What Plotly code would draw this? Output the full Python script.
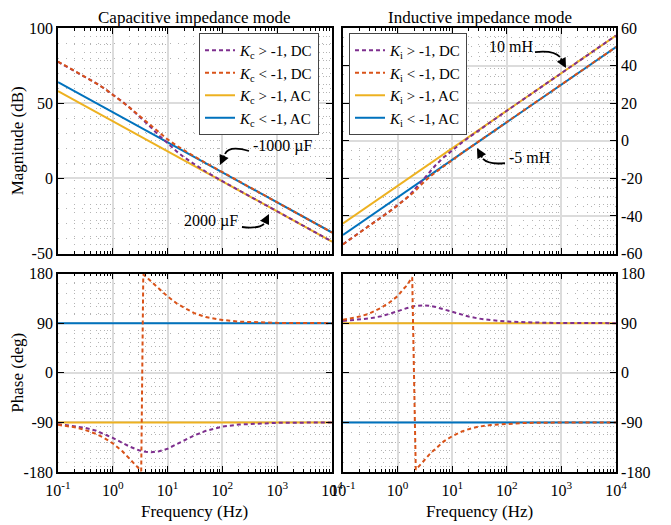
import plotly.graph_objects as go

FONT = "Liberation Serif"
C_BLUE = "#0072BD"
C_ORANGE = "#D95319"
C_YELLOW = "#EDB120"
C_PURPLE = "#7E2F8E"

# ---------------- data ----------------
tick_freqs = [0.1, 1, 10, 100, 1000, 10000]
tick_text = ["10<sup>-1</sup>", "10<sup>0</sup>", "10<sup>1</sup>",
             "10<sup>2</sup>", "10<sup>3</sup>", "10<sup>4</sup>"]

freq_ac = [0.1, 10000]
# Capacitive mode, AC
cap_mag_ac_gt = [58.0, -42.0]
cap_mag_ac_lt = [64.0, -36.0]
cap_ph_ac_gt = [-90, -90]
cap_ph_ac_lt = [90, 90]
# Inductive mode, AC
ind_mag_ac_gt = [-44.0, 56.0]
ind_mag_ac_lt = [-50.1, 49.9]
ind_ph_ac_gt = [90, 90]
ind_ph_ac_lt = [-90, -90]

# Capacitive mode, DC, Kc > -1
cap_freq_dc_gt = [0.1, 0.2, 0.3, 0.5, 0.7, 1, 1.5, 2, 3, 4, 5, 7, 10, 15, 20, 30, 50,
                  100, 200, 500, 1000, 10000]
cap_mag_dc_gt = [77.5, 71.5, 67.9, 63.2, 59.8, 55.8, 51.0, 47.3, 41.6, 37.3, 33.8, 28.5,
                 23.2, 17.6, 14.0, 9.5, 4.4, -1.9, -8.0, -16.0, -22.0, -42.0]
cap_ph_dc_gt = [-93.2, -96.3, -99.4, -105.3, -110.8, -118.0, -127.2, -133.6, -140.6,
                -143.4, -144.1, -142.5, -137.8, -129.6, -123.0, -114.1, -105.3, -97.8,
                -93.9, -91.6, -90.8, -90.1]

# Capacitive mode, DC, Kc < -1
cap_freq_dc_lt = [0.1, 0.2, 0.3, 0.5, 0.7, 1, 1.5, 2, 2.5, 3, 3.3, 3.6, 4, 5, 7, 10, 15,
                  20, 30, 50, 100, 200, 500, 1000, 10000]
cap_mag_dc_lt = [77.7, 71.6, 68.0, 63.2, 59.8, 55.8, 50.8, 47.2, 44.3, 41.8, 40.5, 39.3,
                 37.9, 34.7, 30.3, 25.9, 21.5, 18.6, 14.8, 10.2, 4.1, -2.0, -9.9, -16.0,
                 -36.0]
cap_ph_dc_lt = [-94.4, -98.8, -103.1, -111.0, -118.5, -128.0, -142.5, -154.8, -165.2,
                -173.8, -178.5, 178.0, 174.5, 165.5, 152.0, 138.5, 125.0, 117.5, 108.5,
                101.0, 95.8, 92.8, 91.1, 90.5, 90.0]

# Inductive mode, DC, Ki > -1
ind_freq_dc_gt = [0.1, 0.2, 0.3, 0.5, 0.7, 1, 1.5, 2, 3, 4, 5, 7, 10, 15, 20, 30, 50,
                  100, 200, 500, 1000, 10000]
ind_mag_dc_gt = [-55.0, -49.0, -45.4, -40.8, -37.7, -34.2, -30.2, -26.2, -20.2, -16.0,
                 -12.9, -8.8, -5.0, -1.0, 1.7, 5.4, 9.9, 16.0, 22.0, 29.9, 36.0, 56.0]
ind_ph_dc_gt = [94.0, 96.5, 98.5, 102.5, 106.5, 111.5, 117.5, 120.8, 122.2, 121.3, 119.2,
                115.0, 110.5, 105.0, 102.0, 98.5, 95.5, 93.0, 91.5, 90.6, 90.3, 90.0]

# Inductive mode, DC, Ki < -1
ind_freq_dc_lt = [0.1, 0.2, 0.3, 0.5, 0.7, 1, 1.25, 1.5, 1.7, 1.85, 2.15, 2.5, 3, 4, 5, 7,
                  10, 15, 20, 30, 50, 100, 200, 500, 1000, 10000]
ind_mag_dc_lt = [-55.1, -49.1, -45.5, -40.9, -37.8, -34.4, -32.2, -30.5, -29.3, -28.4,
                 -26.5, -24.3, -22.0, -18.8, -16.7, -13.5, -10.3, -6.6, -4.1, -0.5, 3.9,
                 9.9, 16.0, 23.9, 29.9, 49.9]
ind_ph_dc_lt = [96.0, 101.9, 107.0, 118.0, 127.0, 139.0, 151.0, 159.0, 168.0, 173.0,
                -176.0, -167.8, -160.0, -146.0, -137.0, -124.5, -115.0, -106.5, -102.3,
                -97.9, -94.8, -92.4, -91.2, -90.5, -90.2, -90.0]

names_cap = ["<i>K</i><sub>c</sub> &gt; -1, DC", "<i>K</i><sub>c</sub> &lt; -1, DC",
             "<i>K</i><sub>c</sub> &gt; -1, AC", "<i>K</i><sub>c</sub> &lt; -1, AC"]
names_ind = ["<i>K</i><sub>i</sub> &gt; -1, DC", "<i>K</i><sub>i</sub> &lt; -1, DC",
             "<i>K</i><sub>i</sub> &gt; -1, AC", "<i>K</i><sub>i</sub> &lt; -1, AC"]

fig = go.Figure()

DASH = "4px,3px"


def add_panel(xa, ya, f_gt, m_gt, f_lt, m_lt, ac_gt, ac_lt, names, legend, show):
    # draw order: AC solid first, then dashed DC on top
    fig.add_trace(go.Scatter(x=freq_ac, y=ac_gt, xaxis=xa, yaxis=ya, mode="lines",
                             line=dict(color=C_YELLOW, width=2), name=names[2],
                             legend=legend, legendrank=3, showlegend=show))
    fig.add_trace(go.Scatter(x=freq_ac, y=ac_lt, xaxis=xa, yaxis=ya, mode="lines",
                             line=dict(color=C_BLUE, width=2), name=names[3],
                             legend=legend, legendrank=4, showlegend=show))
    fig.add_trace(go.Scatter(x=f_gt, y=m_gt, xaxis=xa, yaxis=ya, mode="lines",
                             line=dict(color=C_PURPLE, width=2, dash=DASH), name=names[0],
                             legend=legend, legendrank=1, showlegend=show))
    fig.add_trace(go.Scatter(x=f_lt, y=m_lt, xaxis=xa, yaxis=ya, mode="lines",
                             line=dict(color=C_ORANGE, width=2, dash=DASH), name=names[1],
                             legend=legend, legendrank=2, showlegend=show))


add_panel("x", "y", cap_freq_dc_gt, cap_mag_dc_gt, cap_freq_dc_lt, cap_mag_dc_lt,
          cap_mag_ac_gt, cap_mag_ac_lt, names_cap, "legend", True)
add_panel("x2", "y2", ind_freq_dc_gt, ind_mag_dc_gt, ind_freq_dc_lt, ind_mag_dc_lt,
          ind_mag_ac_gt, ind_mag_ac_lt, names_ind, "legend2", True)
add_panel("x3", "y3", cap_freq_dc_gt, cap_ph_dc_gt, cap_freq_dc_lt, cap_ph_dc_lt,
          cap_ph_ac_gt, cap_ph_ac_lt, names_cap, "legend", False)
add_panel("x4", "y4", ind_freq_dc_gt, ind_ph_dc_gt, ind_freq_dc_lt, ind_ph_dc_lt,
          ind_ph_ac_gt, ind_ph_ac_lt, names_ind, "legend2", False)

TICKFONT = dict(family=FONT, size=16, color="black")
TITLEFONT = dict(family=FONT, size=17, color="black")
GRID = "#dcdcdc"
MINOR_GRID = "#b4b4b4"
MINOR_DASH = "1px,7px"


def xax(domain, anchor, labels):
    return dict(type="log", range=[-1, 4], domain=domain, anchor=anchor, automargin=False,
                tickmode="array", tickvals=tick_freqs, ticktext=tick_text,
                showticklabels=labels, ticks="inside", ticklen=6, tickwidth=1.2,
                tickcolor="black", showline=True, linecolor="black", linewidth=1.8,
                mirror="allticks", showgrid=True, gridcolor=GRID, gridwidth=1.5,
                zeroline=False, tickfont=TICKFONT, ticklabelstandoff=3,
                minor=dict(dtick="D1", ticks="inside", ticklen=3, tickcolor="black",
                           showgrid=True, gridcolor=MINOR_GRID, griddash=MINOR_DASH,
                           gridwidth=1))


def yax(domain, anchor, rng, vals, minor_step, side="left", title=None):
    d = dict(range=rng, domain=domain, anchor=anchor, side=side, automargin=False,
             tickmode="array", tickvals=vals, ticktext=[str(v) for v in vals],
             ticks="inside", ticklen=6, tickwidth=1.2, tickcolor="black",
             showline=True, linecolor="black", linewidth=1.8, mirror="allticks",
             showgrid=True, gridcolor=GRID, gridwidth=1.5, zeroline=False,
             tickfont=TICKFONT,
             minor=dict(dtick=minor_step, tick0=0, ticks="", showgrid=True,
                        gridcolor=MINOR_GRID, griddash=MINOR_DASH, gridwidth=1))
    if title:
        d["title"] = dict(text=title, font=TITLEFONT, standoff=4)
    return d


XL = [0, 0.491]
XR = [0.5108, 1]
YT = [0.492, 1]
YB = [0, 0.447]

LEG = dict(yanchor="top", xanchor="left", y=0.9887, bgcolor="white",
           bordercolor="#444", borderwidth=1, tracegroupgap=0,
           font=dict(family=FONT, size=15, color="black"))

# the page body has an 8px margin, so the figure is sized/offset to compensate
fig.update_layout(
    width=663, height=517,
    margin=dict(l=50, r=55, t=20, b=53, autoexpand=False),
    paper_bgcolor="white", plot_bgcolor="white",
    font=dict(family=FONT, size=16, color="black"),
    xaxis=xax(XL, "y", False),
    xaxis2=xax(XR, "y2", False),
    xaxis3=xax(XL, "y3", True),
    xaxis4=xax(XR, "y4", True),
    yaxis=yax(YT, "x", [-50, 100], [-50, 0, 50, 100], 10, title="Magnitude (dB)"),
    yaxis2=yax(YT, "x2", [-60, 60], [-60, -40, -20, 0, 20, 40, 60], 5, side="right"),
    yaxis3=yax(YB, "x3", [-180, 180], [-180, -90, 0, 90, 180], 18, title="Phase (deg)"),
    yaxis4=yax(YB, "x4", [-180, 180], [-180, -90, 0, 90, 180], 18, side="right"),
    legend=dict(LEG, x=0.2527),
    legend2=dict(LEG, x=0.5215),
    showlegend=True,
)

ann_font = dict(family=FONT, size=16, color="black")
annotations = [
    dict(text="Capacitive impedance mode", xref="paper", yref="paper", x=0.2455, y=1.024,
         xanchor="center", yanchor="middle", showarrow=False, font=TITLEFONT),
    dict(text="Inductive impedance mode", xref="paper", yref="paper", x=0.7554, y=1.024,
         xanchor="center", yanchor="middle", showarrow=False, font=TITLEFONT),
    dict(text="Frequency (Hz)", xref="paper", yref="paper", x=0.2455, y=-0.090,
         xanchor="center", yanchor="middle", showarrow=False, font=TITLEFONT),
    dict(text="Frequency (Hz)", xref="paper", yref="paper", x=0.7554, y=-0.090,
         xanchor="center", yanchor="middle", showarrow=False, font=TITLEFONT),
    # labels
    dict(text="-1000 µF", xref="x", yref="y", x=3.108, y=21.4, showarrow=False,
         font=ann_font),
    dict(text="2000 µF", xref="x", yref="y", x=1.792, y=-28.5, showarrow=False,
         font=ann_font),
    dict(text="10 mH", xref="x2", yref="y2", x=2.084, y=49.9, showarrow=False,
         font=ann_font),
    dict(text="-5 mH", xref="x2", yref="y2", x=2.419, y=-8.9, showarrow=False,
         font=ann_font),
]

# curved callout arrows: a curved stem (shape path) + an arrowhead (annotation)
ARROW_STEMS = [
    "M 0.3423,0.7230 Q 0.3065,0.7365 0.2993,0.7162",
    "M 0.3297,0.5518 Q 0.3584,0.5473 0.3692,0.5586",
    "M 0.8548,0.9459 Q 0.8889,0.9505 0.8996,0.9347",
    "M 0.8011,0.6959 Q 0.7724,0.6914 0.7616,0.7050",
]
ARROW_TIPS = [(0.2903, 0.6914, 5, -11), (0.3781, 0.5811, -5, 10),
              (0.9104, 0.9099, -6, -11), (0.7509, 0.7297, 6, 11)]
for (tx, ty, axp, ayp) in ARROW_TIPS:
    annotations.append(dict(text="", xref="paper", yref="paper", x=tx, y=ty, ax=axp,
                            ay=ayp, showarrow=True, arrowhead=2, arrowsize=1.1,
                            arrowwidth=1.8, arrowcolor="black", standoff=0))
fig.update_layout(annotations=annotations,
                  shapes=[dict(type="path", xref="paper", yref="paper", path=p,
                               line=dict(color="black", width=1.8)) for p in ARROW_STEMS])

fig.write_html("out.html")
